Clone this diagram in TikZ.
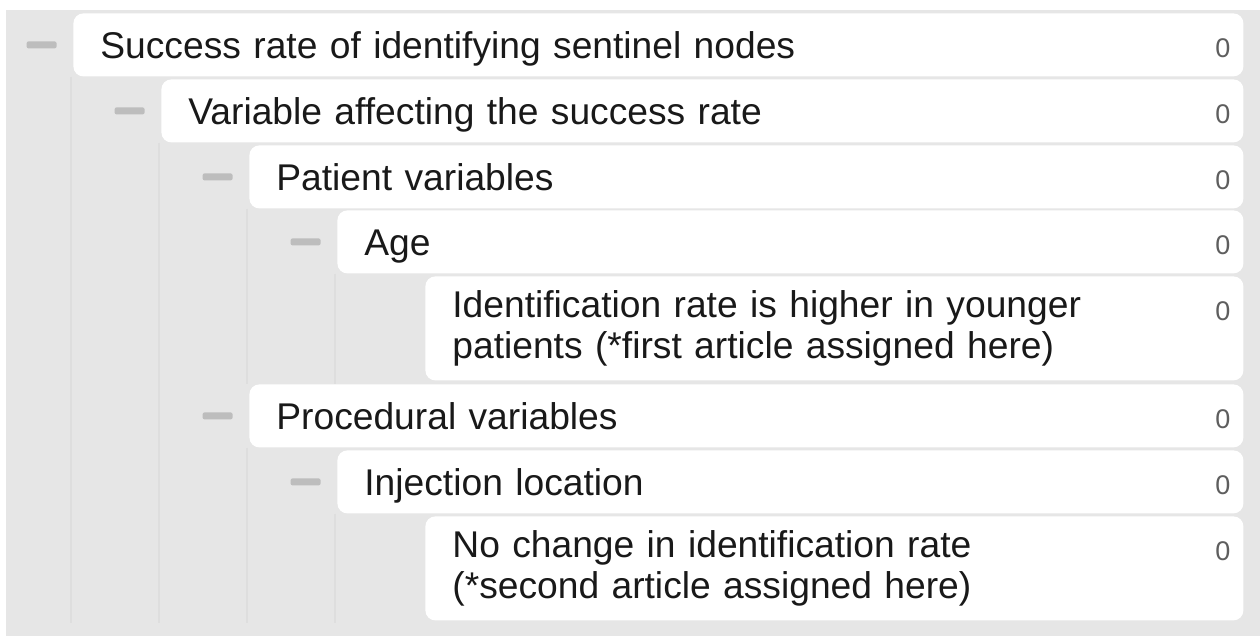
\documentclass[tikz,border=0pt]{standalone}
\usepackage{fontspec}
\setmainfont{Liberation Sans}
\usetikzlibrary{positioning}
\definecolor{panelgray}{HTML}{E6E6E6}
\definecolor{guidegray}{HTML}{DEDEDE}
\definecolor{togglegray}{HTML}{BDBDBD}
\definecolor{countgray}{HTML}{5E5E5E}

\begin{document}
\begin{tikzpicture}[
		x=0.5pt, y=-0.5pt,
		row/.style={fill=white, rounded corners=5pt, anchor=north west, inner xsep=13.5pt, inner ysep=0pt, minimum height=31.5pt, align=left, font=\fontsize{18.6}{20.5}\selectfont, text=black!90, text height=13.5pt, text depth=0pt},
		tall/.style={minimum height=52pt, text height=, text depth=},
		lvA/.style={text width=558pt},
		lvB/.style={text width=514pt},
		lvC/.style={text width=470pt},
		lvD/.style={text width=426pt},
		lvE/.style={text width=382pt},
		toggle/.style={fill=togglegray, rounded corners=1pt, minimum width=15pt, minimum height=3.5pt, inner sep=0pt},
		count/.style={font=\fontsize{13.5}{15}\selectfont, text=countgray},
		guide/.style={draw=guidegray, line width=0.6pt},
		node distance=8pt
		]
		
		% Panel
		\fill[white] (0,0) rectangle (1260,636);
		\fill[panelgray] (6,10) rectangle (1260,636);
		\coordinate (bot) at (0,623);
		
		% Rows
		\node[row, lvA] (r1) at (73,13) {Success rate of identifying sentinel nodes};
		\node[row, lvB] (r2) at (161,79) {Variable affecting the success rate};
		\node[row, lvC] (r3) at (249,145) {Patient variables};
		\node[row, lvD] (r4) at (337,210) {Age};
		\node[row, lvE, tall] (r5) at (425,276) {Identification rate is higher in younger\\patients (*first article assigned here)};
		\node[row, lvC] (r6) at (249,384) {Procedural variables};
		\node[row, lvD] (r7) at (337,450) {Injection location};
		\node[row, lvE, tall] (r8) at (425,516) {No change in identification rate\\(*second article assigned here)};
		
		% Guides
		\draw[guide] ([xshift=-1pt]r1.south west) -- ([xshift=-1pt]r1.south west |- bot);
		\draw[guide] ([xshift=-1pt]r2.south west) -- ([xshift=-1pt]r2.south west |- bot);
		\draw[guide] ([xshift=-1pt]r3.south west) -- ([xshift=-1pt]r3.south west |- r6.north);
		\draw[guide] ([xshift=-1pt]r6.south west) -- ([xshift=-1pt]r6.south west |- bot);
		\draw[guide] ([xshift=-1pt]r4.south west) -- ([xshift=-1pt]r4.south west |- r6.north);
		\draw[guide] ([xshift=-1pt]r7.south west) -- ([xshift=-1pt]r7.south west |- bot);
		
		% Toggles
		\node[toggle, left=of r1] (t1) {};
		\node[toggle, left=of r2] (t2) {};
		\node[toggle, left=of r3] (t3) {};
		\node[toggle, left=of r4] (t4) {};
		\node[toggle, left=of r6] (t6) {};
		\node[toggle, left=of r7] (t7) {};
		
		% Counts
		\foreach \r in {r1,r2,r3,r4,r5,r6,r7,r8}
		\node[count] (c\r) at ([xshift=-10.5pt,yshift=-17.5pt]\r.north east) {0};
		
	\end{tikzpicture}
\end{document}
